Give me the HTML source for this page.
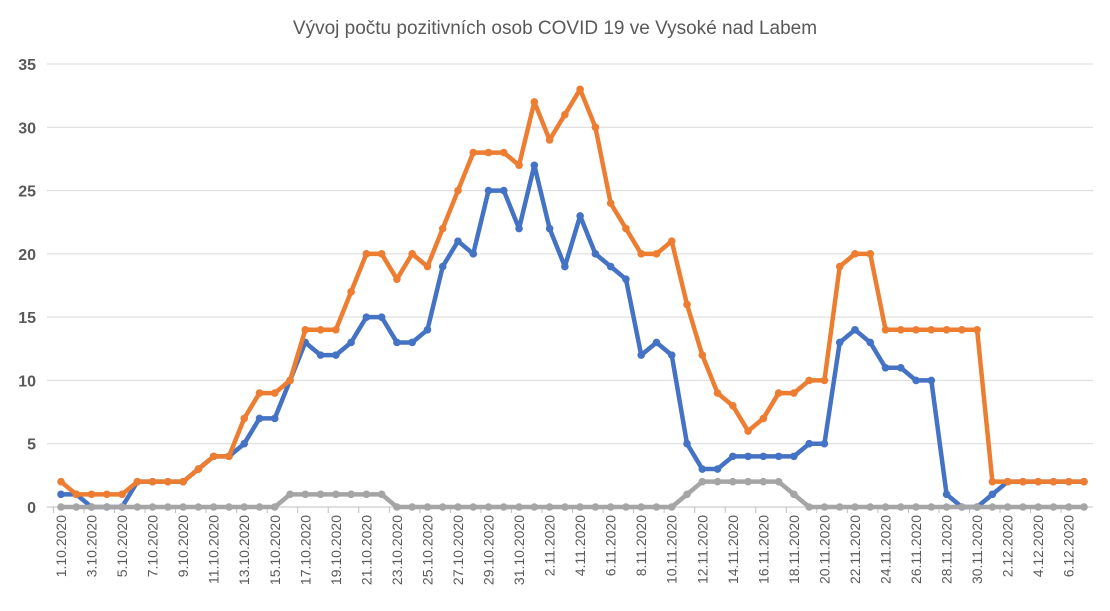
<!DOCTYPE html>
<html><head><meta charset="utf-8"><style>
body{margin:0;background:#fff;}
svg{display:block;font-family:"Liberation Sans",sans-serif;}
</style></head><body>
<svg id="chart" width="1110" height="611" viewBox="0 0 1110 611">
<rect width="1110" height="611" fill="#fff"/>
<text x="555" y="34" text-anchor="middle" font-size="19" fill="#595959">Vývoj počtu pozitivních osob COVID 19 ve Vysoké nad Labem</text>
<g id="grid"></g><g id="yticks"></g><g id="xticks"></g><g id="series"></g>
</svg>
<script>
const startDay = [1,10,2020];
const categories = [];
(function(){const mdays=[31,30,7];const months=[10,11,12];for(let m=0;m<3;m++)for(let d=1;d<=mdays[m];d++)categories.push(d+'.'+months[m]+'.2020');})();
const seriesBlue = [1,1,0,0,0,2,2,2,2,3,4,4,5,7,7,10,13,12,12,13,15,15,13,13,14,19,21,20,25,25,22,
27,22,19,23,20,19,18,12,13,12,5,3,3,4,4,4,4,4,5,5,13,14,13,11,11,10,10,1,0,0,
1,2,2,2,2,2,2];
const seriesOrange = [2,1,1,1,1,2,2,2,2,3,4,4,7,9,9,10,14,14,14,17,20,20,18,20,19,22,25,28,28,28,27,
32,29,31,33,30,24,22,20,20,21,16,12,9,8,6,7,9,9,10,10,19,20,20,14,14,14,14,14,14,14,
2,2,2,2,2,2,2];
const seriesGray = [0,0,0,0,0,0,0,0,0,0,0,0,0,0,0,1,1,1,1,1,1,1,0,0,0,0,0,0,0,0,0,
0,0,0,0,0,0,0,0,0,0,1,2,2,2,2,2,2,1,0,0,0,0,0,0,0,0,0,0,0,0,
0,0,0,0,0,0,0];
const yTicks = [0,5,10,15,20,25,30,35];

const NS='http://www.w3.org/2000/svg';
const x0=61,x1=1084,y0=507,y35=64;
const xs=i=>x0+(x1-x0)*i/(categories.length-1);
const ys=v=>y0-(y0-y35)*v/35;
function mk(tag,attrs,parent){const e=document.createElementNS(NS,tag);for(const k in attrs)e.setAttribute(k,attrs[k]);parent.appendChild(e);return e;}
const grid=document.getElementById('grid'),yt=document.getElementById('yticks'),xt=document.getElementById('xticks'),sg=document.getElementById('series');
yTicks.forEach(v=>{
  const l=mk('line',{x1:47,x2:1093,y1:ys(v),y2:ys(v),stroke:v===0?'#bfbfbf':'#d9d9d9','stroke-width':1},grid);
  
  
  const t=mk('text',{x:36,y:ys(v)+6,'text-anchor':'end','font-size':16,'font-weight':'bold',fill:'#595959'},yt);
  t.textContent=v;
  
  
});
categories.forEach((c,i)=>{
  if(i%2===0){
    const x=xs(i);
    const t=mk('text',{transform:'translate('+(x+5)+',515) rotate(-90)','text-anchor':'end','font-size':14,fill:'#595959'},xt);
    t.textContent=c;
    
    
    const tk=mk('line',{x1:x-7.6,x2:x-7.6,y1:y0,y2:y0+6,stroke:'#bfbfbf'},xt);
    
    
  }
});
function drawSeries(vals,color,name){
  const g=mk('g',{},sg);
  
  
  const pts=vals.map((v,i)=>xs(i)+','+ys(v)).join(' ');
  const pl=mk('polyline',{points:pts,fill:'none',stroke:color,'stroke-width':4.5,'stroke-linejoin':'round','stroke-linecap':'round'},g);
  
  
  vals.forEach((v,i)=>{
    const c=mk('circle',{cx:xs(i),cy:ys(v),r:3.8,fill:color},g);
    
    
  });
}
drawSeries(seriesBlue,'#4472C4','series-blue');
drawSeries(seriesOrange,'#ED7D31','series-orange');
drawSeries(seriesGray,'#A5A5A5','series-gray');
</script>
</body></html>
